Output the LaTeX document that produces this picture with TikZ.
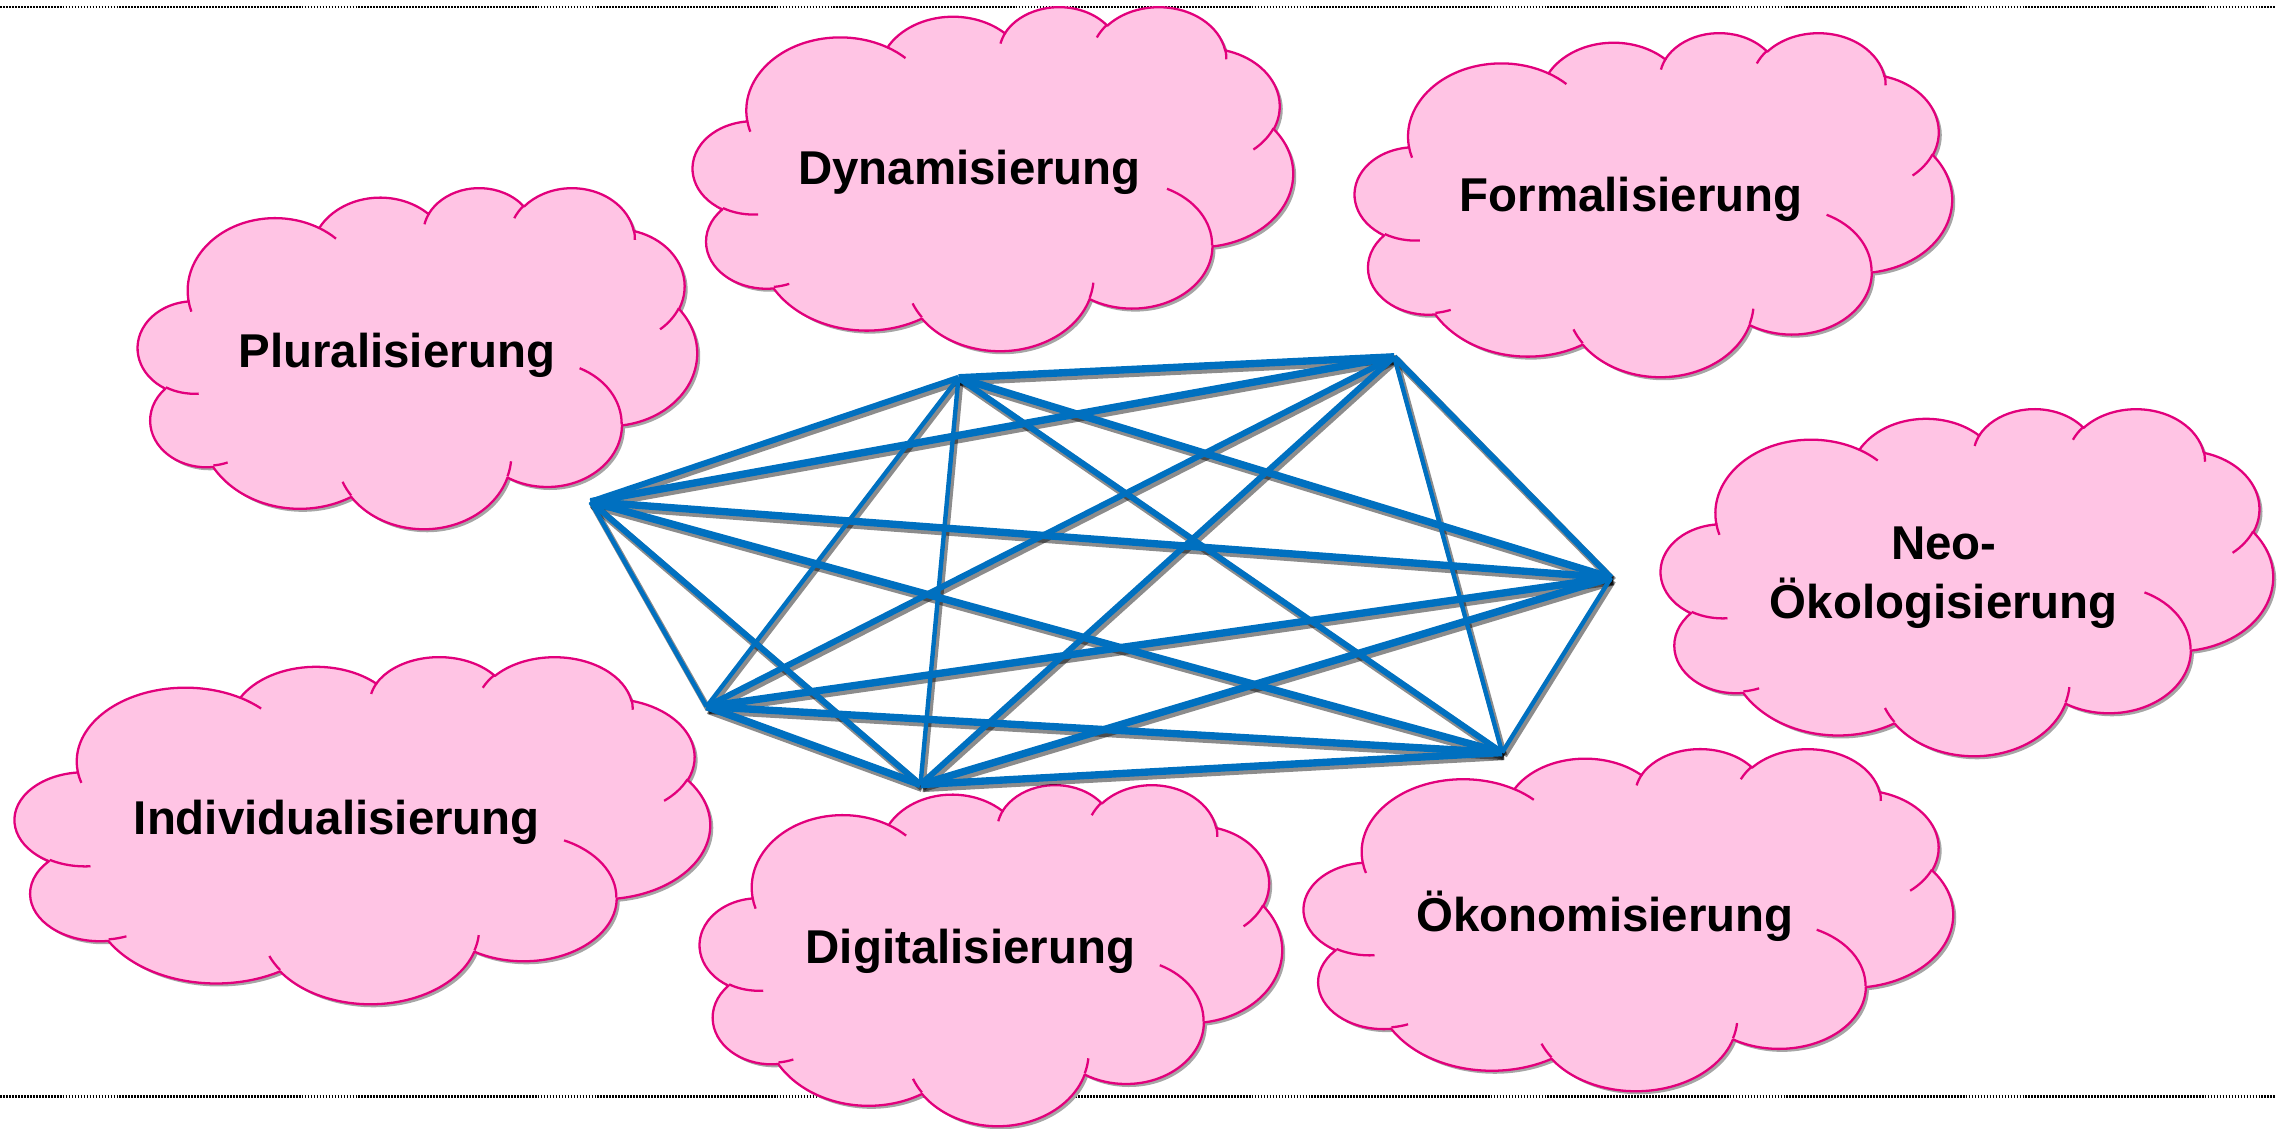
\documentclass[tikz,border=0pt]{standalone}
\usepackage{fontspec}
\setmainfont{Liberation Sans}
\definecolor{cfill}{HTML}{FFC4E4}
\definecolor{cline}{HTML}{E2007C}
\definecolor{eblue}{HTML}{0070C0}
\definecolor{cshade}{HTML}{A6A6A6}
\newcommand\carc[4]{\pgfextra{%
  \pgfmathparse{atan2((#1)*sin(#3),(#2)*cos(#3))}\xdef\cta{\pgfmathresult}%
  \pgfmathparse{atan2((#1)*sin((#3)+(#4)),(#2)*cos((#3)+(#4)))}\xdef\ctb{\pgfmathresult}%
  \pgfmathparse{(\ctb)-(\cta)-360*round(((\ctb)-(\cta)-(#4))/360)}\xdef\ctd{\pgfmathresult}%
 } arc[x radius=#1, y radius=#2, start angle=\cta, delta angle=\ctd]}
\def\cloudbody{(3.900,14.370) \carc{6.753}{9.190}{-190.48748}{123.78053}
 \carc{5.333}{7.267}{-144.10238}{89.94523}
 \carc{4.365}{5.945}{-145.80792}{99.72302}
 \carc{4.857}{6.595}{-130.98607}{117.24173}
 \carc{5.333}{7.273}{-78.70888}{109.02692}
 \carc{6.775}{9.220}{-46.26725}{130.269}
 \carc{5.785}{7.867}{0.62502}{114.03333}
 \carc{6.752}{9.215}{22.4516}{115.17255}
 \carc{7.720}{10.543}{66.24263}{75.71102}
 \carc{4.360}{5.918}{-274.94208}{146.73557}
 \carc{4.345}{5.945}{-246.8285}{152.51885} -- cycle}
\def\cloudinner{(4.693,26.177) \carc{4.345}{5.945}{86.742}{26.4295}
 (6.928,34.899) \carc{4.360}{5.918}{73.61047}{11.44747}
 (16.478,39.090) \carc{6.752}{9.215}{137.62415}{14.0811}
 (28.827,34.751) \carc{6.752}{9.215}{6.45327}{15.99835}
 (34.129,22.954) \carc{5.785}{7.867}{-70.29235}{70.91737}
 (41.798,15.354) \carc{5.333}{7.273}{30.31803}{27.7515}
 (38.324,5.426) \carc{4.857}{6.595}{-13.74433}{14.8589}
 (29.078,3.952) \carc{4.857}{6.595}{-149.18145}{18.19537}
 (22.141,4.720) \carc{4.365}{5.945}{-163.49427}{17.68635}
 (14.000,5.192) \carc{6.753}{9.190}{-66.70695}{12.31935}
 (4.127,15.789) \carc{6.753}{9.190}{157.65435}{11.85817}}
\newcommand\pcloud[4]{%
 \begin{scope}[shift={(#1/100+0.03,-#2/100-0.03)},xscale=#3/4320,yscale=-#4/4320]
  \fill[cloudshadow] \cloudbody;
 \end{scope}
 \begin{scope}[shift={(#1/100,-#2/100)},xscale=#3/4320,yscale=-#4/4320]
  \fill[cloudfill] \cloudbody;
  \draw[cloudline] \cloudbody;
  \draw[cloudline] \cloudinner;
 \end{scope}}
\tikzset{
 cloudshadow/.style={fill=cshade},
 cloudfill/.style={fill=cfill},
 cloudline/.style={draw=cline, line width=0.65pt, line join=round},
 dotline/.style={draw=black, line width=0.7pt, dash pattern=on 0.5pt off 0.35pt},
 lbl/.style={font=\fontsize{13.5}{17}\selectfont\bfseries, align=center, inner sep=0pt, text=black},
 edgeshadow/.style={draw=black, opacity=0.45},
 edge/.style={draw=eblue},
 wthick/.style={line width=2.1pt},
 wmed/.style={line width=1.7pt},
 wthin/.style={line width=1.25pt},
 swthick/.style={line width=2.6pt},
 swmed/.style={line width=2.2pt},
 swthin/.style={line width=1.75pt},
}
\begin{document}
\begin{tikzpicture}
\useasboundingbox (0,0) rectangle (22.85,-11.28);
\begin{scope}[x=0.01cm,y=-0.01cm]
 \coordinate (tl) at (0,7); \coordinate (tr) at (2276,7);
 \coordinate (bl) at (0,1097); \coordinate (br) at (2276,1097);
 \draw[dotline] (tl) -- (tr);
 \draw[dotline] (bl) -- (br);
\end{scope}
\pcloud{693}{6}{600}{344}
\pcloud{1355}{32}{597}{344}
\pcloud{138}{187}{559}{341}
\pcloud{1661}{408}{612}{347}
\pcloud{15}{656}{695}{347}
\pcloud{700}{784}{582}{341}
\pcloud{1304}{748}{649}{342}
\begin{scope}[x=0.01cm,y=-0.01cm]
 \coordinate (A) at (591,502);
 \coordinate (B) at (959,378);
 \coordinate (C) at (1395,357);
 \coordinate (D) at (1612,578);
 \coordinate (E) at (1503,753);
 \coordinate (F) at (921,785);
 \coordinate (G) at (707,707);
 \foreach \p/\q in {B/C,A/C,A/D,A/E,B/D,D/G,D/F,E/G,E/F,F/G}
   \draw[edgeshadow,swthick] ([xshift=0.02cm,yshift=-0.03cm]\p) -- ([xshift=0.02cm,yshift=-0.03cm]\q);
 \foreach \p/\q in {A/B,A/F,B/E,C/G,C/F,C/D}
   \draw[edgeshadow,swmed] ([xshift=0.02cm,yshift=-0.03cm]\p) -- ([xshift=0.02cm,yshift=-0.03cm]\q);
 \foreach \p/\q in {A/G,B/G,B/F,C/E,D/E}
   \draw[edgeshadow,swthin] ([xshift=0.02cm,yshift=-0.03cm]\p) -- ([xshift=0.02cm,yshift=-0.03cm]\q);
 \foreach \p/\q in {B/C,A/C,A/D,A/E,B/D,D/G,D/F,E/G,E/F,F/G}
   \draw[edge,wthick] (\p) -- (\q);
 \foreach \p/\q in {A/B,A/F,B/E,C/G,C/F,C/D}
   \draw[edge,wmed] (\p) -- (\q);
 \foreach \p/\q in {A/G,B/G,B/F,C/E,D/E}
   \draw[edge,wthin] (\p) -- (\q);
 \node[lbl] (tdyn) at (970,172) {Dynamisierung};
 \node[lbl] (tform) at (1632,199) {Formalisierung};
 \node[lbl] (tplur) at (397,356) {Pluralisierung};
 \node[lbl] (tneo) at (1945,578) {Neo-\\Ökologisierung};
 \node[lbl] (tind) at (337,823) {Individualisierung};
 \node[lbl] (tdig) at (971,952) {Digitalisierung};
 \node[lbl] (toek) at (1606,917) {Ökonomisierung};
\end{scope}
\end{tikzpicture}
\end{document}
